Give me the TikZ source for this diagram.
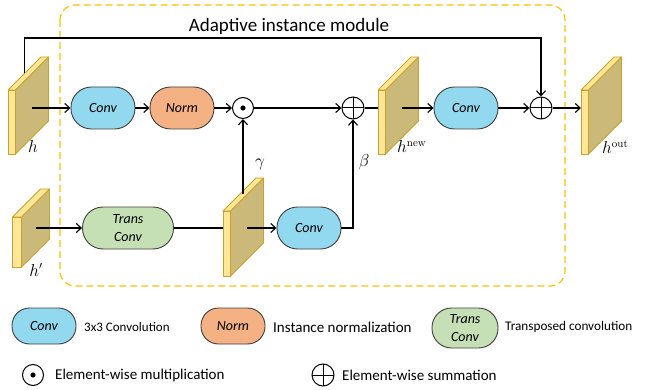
\documentclass[tikz,border=0pt]{standalone}
\usepackage[no-math]{fontspec}
\setmainfont{Carlito}
\usetikzlibrary{arrows.meta,calc}

\definecolor{convblue}{HTML}{92D8EF}
\definecolor{normorange}{HTML}{F4B183}
\definecolor{transgreen}{HTML}{C5E0B4}
\definecolor{platefront}{HTML}{FFE699}
\definecolor{plateside}{HTML}{CBB97A}
\definecolor{plateedge}{HTML}{C9A227}
\definecolor{modborder}{HTML}{FFC000}

% feature map: name, front x, front top y, height, depth, front width
\newcommand{\featmap}[6]{%
  \draw[plateedge, fill=plateside, line width=0.8pt, line join=round]
    (#2+#6,#3) -- ++(#5,-#5) -- ++(0,#4) -- ++(-#5,#5) -- cycle;
  \draw[plateedge, fill=platefront, line width=0.8pt, line join=round]
    (#2,#3) -- ++(#5,-#5) -- ++(#6,0) -- ++(-#5,#5) -- cycle;
  \draw[plateedge, fill=platefront, line width=0.8pt] (#2,#3) rectangle ++(#6,#4);
  \coordinate (#1) at (#2+#6+#5/2, #3+#4/2-#5/2);
  \coordinate (#1-top) at (#2+#5/2, #3-#5/2);
  \coordinate (#1-front) at (#2, #3+#4/2);
}

\begin{document}
\begin{tikzpicture}[x=1pt, y=-1pt,
    arr/.style={-{Straight Barb[length=5pt,width=9pt]}, line width=1.1pt},
    wire/.style={line width=1.1pt},
    block/.style={draw=black!75, line width=0.9pt, rounded corners=20.5pt,
      minimum width=64pt, minimum height=42pt, inner sep=0pt,
      font=\fontsize{14}{18}\selectfont\itshape, align=center},
    lblock/.style={block, rounded corners=17.5pt, minimum height=36pt},
    mul/.style={circle, draw, line width=1pt, minimum size=21pt, inner sep=0pt,
      path picture={\fill (path picture bounding box.center) circle (2.6pt);}},
    add/.style={circle, draw, line width=1pt, minimum size=22pt, inner sep=0pt,
      path picture={\draw[line width=1pt]
        (path picture bounding box.north) -- (path picture bounding box.south)
        (path picture bounding box.west) -- (path picture bounding box.east);}},
    mathlab/.style={inner sep=0pt, font=\fontsize{16}{16}\selectfont},
    legtext/.style={anchor=west, inner sep=0pt, font=\fontsize{15}{17}\selectfont}]

  \useasboundingbox (0,0) rectangle (650,390);

  % module frame
  \draw[modborder, line width=1.2pt, dash pattern=on 7pt off 4pt, rounded corners=15pt]
    (60,5) rectangle (565,286);
  \node[inner sep=0pt, font=\fontsize{19}{19}\selectfont] (title) at (289,26) {Adaptive instance module};

  % feature maps
  \featmap{h}{8}{90}{64}{33}{7.5}
  \featmap{hp}{12.5}{217}{50}{28}{9}
  \featmap{gam}{223}{211}{65}{33}{7.5}
  \featmap{hnew}{378}{90}{64}{33}{7.5}
  \featmap{hout}{581}{90}{64}{33}{7.5}

  \node[mathlab] (hlab) at (33,147) {$h$};
  \node[mathlab] (hplab) at (36,270) {$h'$};
  \node[mathlab, anchor=west] (hnewlab) at (397,147) {$h^{\mathrm{new}}$};
  \node[mathlab, anchor=west] (houtlab) at (602,147) {$h^{\mathrm{out}}$};
  \node[mathlab] (gamlab) at (260,164) {$\gamma$};
  \node[mathlab] (betalab) at (364,162) {$\beta$};

  % blocks
  \node[block, fill=convblue] (conv1) at (103,108) {Conv};
  \node[block, fill=normorange] (norm) at (182,108) {Norm};
  \node[mul] (mul) at (243,108) {};
  \node[add] (add1) at (353,108) {};
  \node[block, fill=convblue] (conv2) at (466,108) {Conv};
  \node[add] (add2) at (541,108) {};
  \node[block, fill=transgreen, minimum width=91pt] (tconv) at (128,228) {Trans\\Conv};
  \node[block, fill=convblue] (conv3) at (309,228) {Conv};

  % connections
  \coordinate (rail) at (0,38);
  \draw[arr] (h-top) |- (rail -| add2) -- (add2);
  \draw[arr] (h |- conv1) -- (conv1);
  \draw[arr] (conv1) -- (norm);
  \draw[arr] (norm) -- (mul);
  \draw[arr] (mul) -- (add1);
  \draw[wire] (add1) -- (add1 -| hnew-front);
  \draw[arr] (hnew |- conv2) -- (conv2);
  \draw[arr] (conv2) -- (add2);
  \draw[arr] (add2) -- (add2 -| hout-front);
  \draw[arr] (hp |- tconv) -- (tconv);
  \draw[wire] (tconv) -- (tconv -| gam-front);
  \draw[arr] (mul |- gam-top) -- (mul);
  \draw[arr] (gam |- conv3) -- (conv3);
  \draw[arr] (conv3.east) -| (add1);

  % legend
  \node[lblock, fill=convblue] (lconv) at (44,326) {Conv};
  \node[legtext, font=\fontsize{13}{15}\selectfont] (lconvtxt) at (84,327) {3x3 Convolution};
  \node[lblock, fill=normorange] (lnorm) at (233,326) {Norm};
  \node[legtext] (lnormtxt) at (273,327) {Instance normalization};
  \node[lblock, fill=transgreen, minimum width=66pt, minimum height=40pt, rounded corners=19.5pt] (ltconv) at (465,328) {Trans\\Conv};
  \node[legtext, font=\fontsize{13.2}{15}\selectfont] (ltconvtxt) at (505,327) {Transposed convolution};
  \node[mul] (lmul) at (33,375) {};
  \node[legtext] (lmultxt) at (55,375) {Element-wise multiplication};
  \node[add] (ladd) at (323,375) {};
  \node[legtext] (laddtxt) at (342,375) {Element-wise summation};
\end{tikzpicture}
\end{document}
